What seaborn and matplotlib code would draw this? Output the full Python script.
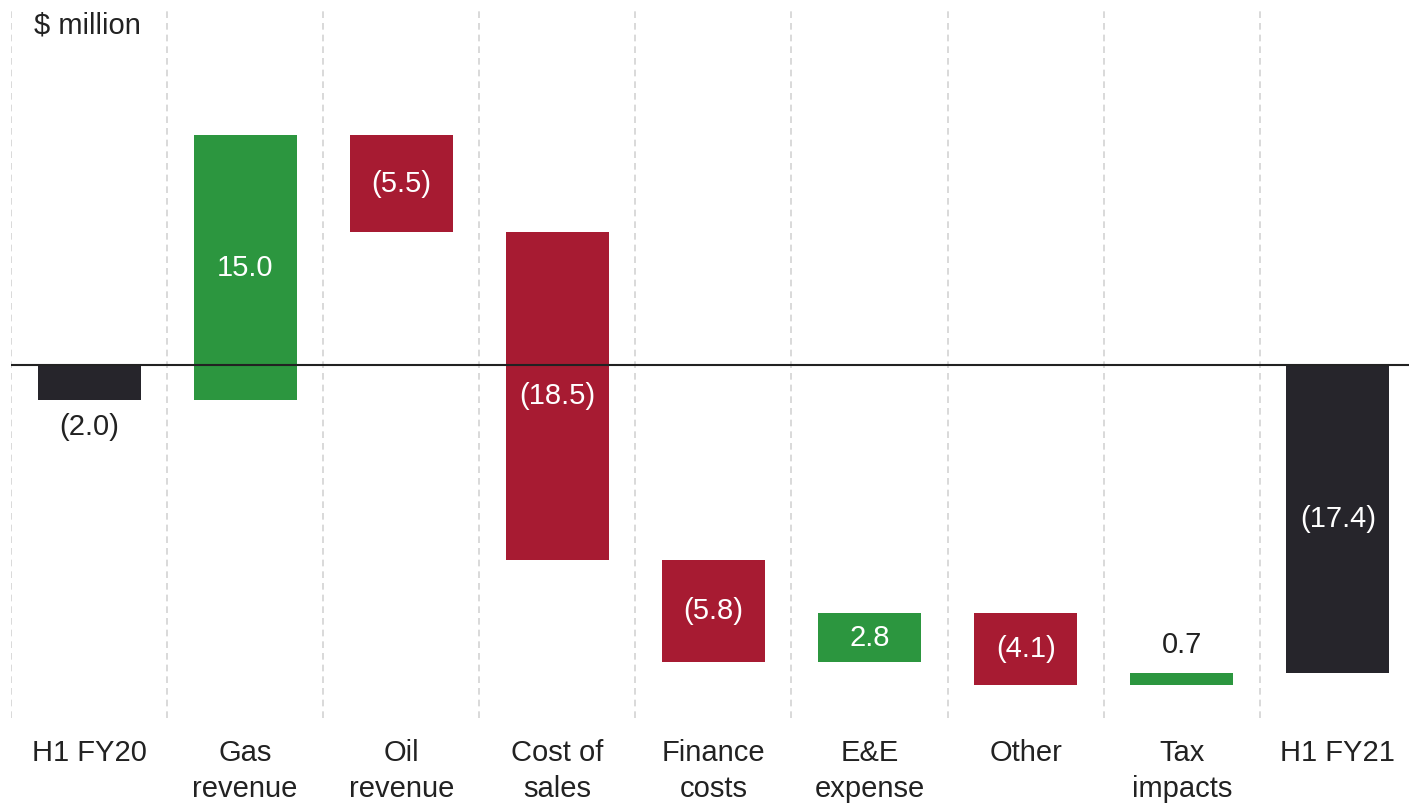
import matplotlib
matplotlib.use('Agg')
import matplotlib.pyplot as plt
import seaborn as sns
import pandas as pd

sns.set_style('white')
plt.rcParams['font.family'] = ['Liberation Sans', 'DejaVu Sans']

# data
categories = ['H1 FY20', 'Gas\nrevenue', 'Oil\nrevenue', 'Cost of\nsales', 'Finance\ncosts',
              'E&E\nexpense', 'Other', 'Tax\nimpacts', 'H1 FY21']
changes = [-2.0, 15.0, -5.5, -18.5, -5.8, 2.8, -4.1, 0.7, -17.4]
is_total = [True, False, False, False, False, False, False, False, True]

DARK = '#26252b'
GREEN = '#2c963f'
RED = '#a71b32'

# waterfall bottoms
starts = []
running = 0.0
for v, tot in zip(changes, is_total):
    if tot:
        starts.append(0.0)
        running = v
    else:
        starts.append(running)
        running += v

colors = [DARK if t else (GREEN if v > 0 else RED) for v, t in zip(changes, is_total)]

df = pd.DataFrame({'cat': categories, 'val': changes})

W, H = 1409, 806
fig = plt.figure(figsize=(W / 100, H / 100), dpi=100)
ax = fig.add_axes([11 / W, 1 - 718 / H, (W - 11) / W, (718 - 10) / H])

sns.barplot(data=df, x='cat', y='val', hue='cat', palette=colors, legend=False,
            width=0.66, saturation=1, ax=ax)

# shift each bar to its waterfall start
for patch, s in zip(ax.patches, starts):
    patch.set_y(s)
    patch.set_linewidth(0)

step = 156.1
ax.set_xlim(-0.5, -0.5 + (W - 11) / step)
ax.set_ylim(-19.94, 20.06)

# dashed separators
for i in range(len(categories)):
    ax.axvline(i - 0.5, color='#d3d3d3', lw=1.2, ls=(0, (4, 3)), zorder=0)

ax.axhline(0, color='#222222', lw=1.5, zorder=5)

# value labels
fs = 21
for i, (v, s) in enumerate(zip(changes, starts)):
    txt = f'({abs(v):.1f})' if v < 0 else f'{v:.1f}'
    end = s + v
    if i == 0:
        ax.text(i, end - 1.5, txt, ha='center', va='center', fontsize=fs, color='#222222')
    elif abs(v) < 1:
        ax.text(i, max(s, end) + 1.6, txt, ha='center', va='center', fontsize=fs, color='#222222')
    else:
        ax.text(i, s + v / 2, txt, ha='center', va='center', fontsize=fs, color='white', zorder=6)

fig.text(34 / W, 1 - 25 / H, '$ million', ha='left', va='center', fontsize=fs, color='#222222')

ax.set_xlabel('')
ax.set_ylabel('')
ax.set_yticks([])
ax.tick_params(axis='x', length=0, pad=15, labelsize=fs, labelcolor='#222222')
for lbl in ax.get_xticklabels():
    lbl.set_linespacing(1.38)
sns.despine(ax=ax, left=True, bottom=True)

fig.savefig('out.png', dpi=100)
